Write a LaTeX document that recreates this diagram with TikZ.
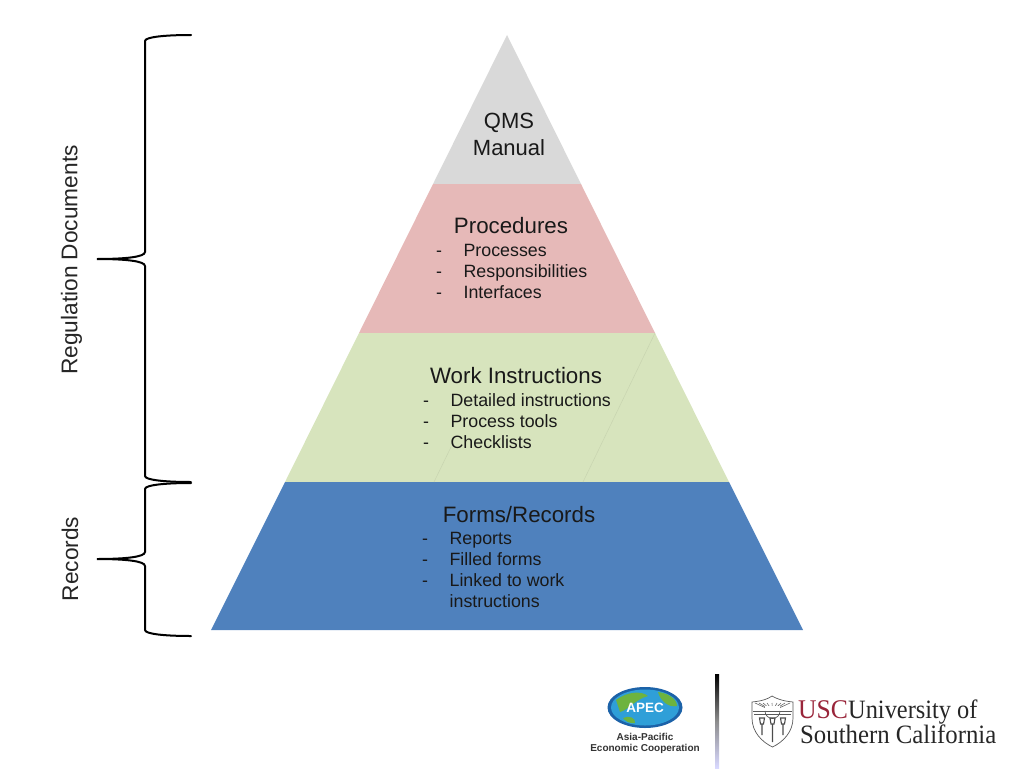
\documentclass[tikz,border=0pt]{standalone}
\usepackage{fontspec}
\setmainfont{Liberation Sans}
\newfontfamily\serifname{Liberation Serif}
\usetikzlibrary{positioning}
\definecolor{qmsgray}{HTML}{D9D9D9}
\definecolor{procpink}{HTML}{E6B9B8}
\definecolor{workgreen}{HTML}{D7E4BD}
\definecolor{formblue}{HTML}{4F81BD}
\definecolor{uscred}{HTML}{99253A}
\definecolor{apecblue}{HTML}{1C62A8}
\definecolor{apecsky}{HTML}{2F9FD8}
\definecolor{apecgreen}{HTML}{6DB33F}
\begin{document}
\begin{tikzpicture}[
x=1pt, y=-1pt,
    T/.style = {font=\fontsize{22.3}{27}\selectfont, text=black!90, inner sep=0pt}, % level titles
    L/.style = {font=\fontsize{17.8}{21}\selectfont, text=black!90, inner sep=0pt,
                anchor=north west, align=left},
    S/.style = {font=\fontsize{22.7}{25}\selectfont, text=black!85, inner sep=0pt, rotate=90},
    B/.style = {line width=2pt, line cap=round},
    U/.style = {font=\serifname\fontsize{26.5}{30}\selectfont, inner sep=0pt, anchor=base west},
    E/.style = {font=\bfseries\fontsize{10}{12}\selectfont, text=black!80, inner sep=0pt},
                        ]
\useasboundingbox (0,0) rectangle (1024,768);

% pyramid levels
\fill[qmsgray] (507,35) -- (581,184) -- (433,184) -- cycle;
\fill[procpink] (433,184) -- (581,184) -- (655,333) -- (359,333) -- cycle;
\fill[workgreen] (359,333) -- (655,333) -- (729,482) -- (285,482) -- cycle;
\fill[formblue] (285,482) -- (729,482) -- (803,630) -- (211,630) -- cycle;
\draw[workgreen!93!black, line width=0.5pt] (655,333) -- (583,482) (451,447) -- (434,482);

% texts of the levels
\node[T, align=center, font=\fontsize{22}{27}\selectfont] (qms) at (509,134) {QMS\\Manual};
\node[T] (proc) at (511,226) {Procedures};
\node[L] (proclist) at (436,244) {-\hspace{21.5pt}Processes\\-\hspace{21.5pt}Responsibilities\\-\hspace{21.5pt}Interfaces};
\node[T] (work) at (516,376) {Work Instructions};
\node[L] (worklist) at (423,393) {-\hspace{21.5pt}Detailed instructions\\-\hspace{21.5pt}Process tools\\-\hspace{21.5pt}Checklists};
\node[T] (form) at (519,515) {Forms/Records};
\node[L] (formlist) at (422,532) {-\hspace{21.5pt}Reports\\-\hspace{21.5pt}Filled forms\\-\hspace{21.5pt}Linked to work\\\hspace{27.5pt}instructions};

% braces
\foreach \ytop/\ymid/\ybot in {35/259/482,483/559/636}
    \draw[B] (191,\ytop) .. controls (165,\ytop) and (145,\ytop+2) .. (145,\ytop+6)
        -- (145,\ymid-7) .. controls (145,\ymid-2) and (125,\ymid) .. (97,\ymid)
        .. controls (125,\ymid) and (145,\ymid+2) .. (145,\ymid+7)
        -- (145,\ybot-6) .. controls (145,\ybot-2) and (165,\ybot) .. (191,\ybot);
\node[S] (regdocs) at (71.5,260) {Regulation Documents};
\node[S] (records) at (70,559) {Records};

% APEC logo
\fill[apecblue] (645,707.5) ellipse [x radius=37.5, y radius=20.5];
\fill[apecsky] (645,707.5) ellipse [x radius=34, y radius=18];
\fill[apecgreen] (616,700) .. controls (628,691) and (642,691) .. (648,696)
    .. controls (636,699) and (628,710) .. (620,712) -- cycle;
\fill[apecgreen] (658,692) .. controls (668,693) and (677,699) .. (677,706)
    .. controls (668,708) and (660,700) .. (658,692) -- cycle;
\fill[apecgreen] (623,718) .. controls (629,715) and (636,718) .. (635,723)
    .. controls (630,724) and (625,721) .. (623,718) -- cycle;
\node[inner sep=0pt, text=white, font=\bfseries\fontsize{13.5}{18}\selectfont] (apec) at (645,707.5) {APEC};
\node[E] (asia) at (645,737) {Asia-Pacific};
\node[E, below=3pt of asia] (econ) {Economic Cooperation};

% divider
\shade[top color=black, bottom color=blue!15!white, middle color=black!45] (715,674) rectangle (719,768);

% USC shield
\draw[black!65, line width=0.7pt] (752,702) .. controls (762,701) and (768,699) .. (772,696)
    .. controls (777,699) and (783,701) .. (793,702)
    -- (793,718) .. controls (793,732) and (783,742) .. (772.5,747)
    .. controls (762,742) and (752,732) .. (752,718) -- cycle;
\foreach \xray in {755,759,763,767,772,777,781,785,790}
    \draw[black!60, line width=0.6pt] (772.5,711) -- (\xray,703);
\fill[white] (765,711) rectangle (780,706);
\draw[black!65, line width=0.7pt] (765,711) arc [start angle=180, end angle=0, radius=7.5];
\draw[black!65, line width=0.6pt] (753,711) -- (792,711) (754,714) -- (791,714);
\foreach \xtorch/\yend in {762/735,772.5/742,783/735}
    \draw[black!70, line width=1.1pt] (\xtorch,724) -- (\xtorch,\yend)
        (\xtorch-2.5,718) -- (\xtorch+2.5,718) -- (\xtorch+1.5,724) -- (\xtorch-1.5,724) -- cycle;

% USC text
\node[U, text=uscred, font=\serifname\fontsize{27}{30}\selectfont, xscale=0.95] (usc) at (798,718) {USC};
\node[U, text=black!85, xscale=0.92] (univ) at (848,718) {University of};
\node[U, text=black!85, xscale=0.935] (south) at (800,743) {Southern California};
\end{tikzpicture}
\end{document}
